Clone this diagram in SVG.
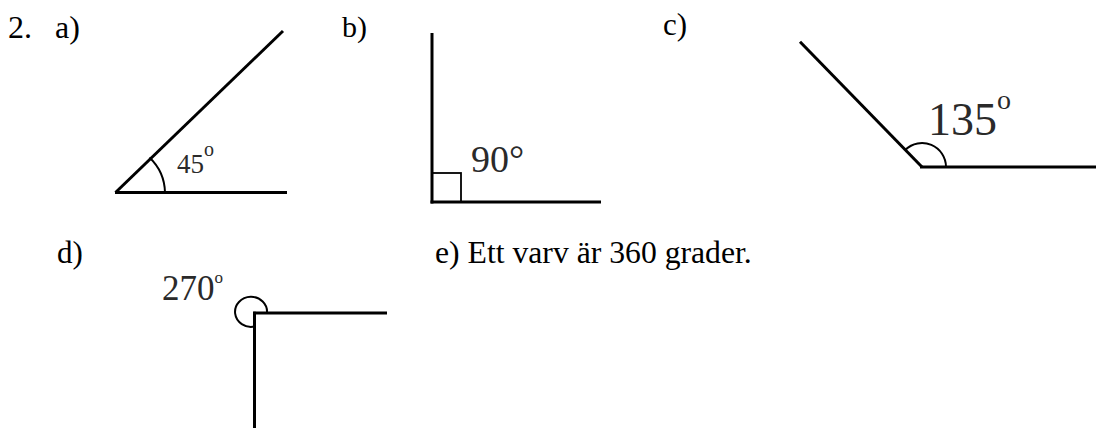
<svg xmlns="http://www.w3.org/2000/svg" width="1096" height="428" viewBox="0 0 1096 428">
  <style>
    text { font-family: "Liberation Serif", "Times New Roman", serif; }
    .lbl { fill: #000; }
    .deg { fill: #2a2a2a; }
    .ray { stroke: #000; stroke-width: 3; fill: none; stroke-linecap: butt; }
    .arc { stroke: #000; stroke-width: 2; fill: none; }
  </style>
  <rect width="1096" height="428" fill="#fff"/>

  <g id="labels">
    <text class="lbl" x="8" y="37.5" font-size="32">2.</text>
    <text class="lbl" x="55" y="37.5" font-size="32">a)</text>
    <text class="lbl" x="342" y="37" font-size="30">b)</text>
    <text class="lbl" x="663" y="35" font-size="31">c)</text>
    <text class="lbl" x="57" y="263" font-size="31">d)</text>
    <text class="lbl" x="435" y="263" font-size="31.7">e) Ett varv är 360 grader.</text>
  </g>

  <g id="angle-a">
    <line class="ray" x1="115" y1="192.5" x2="287" y2="192.5"/>
    <line class="ray" x1="115.5" y1="192.5" x2="283" y2="31"/>
    <path class="arc" d="M165 192.5 A50 50 0 0 0 149.5 157.5"/>
    <text class="deg" style="font-family:'Liberation Serif',serif" x="177" y="172.5" font-size="27">45<tspan font-size="20" dy="-17">o</tspan></text>
  </g>

  <g id="angle-b">
    <line class="ray" x1="432" y1="33" x2="432" y2="203.5"/>
    <line class="ray" x1="430.5" y1="202" x2="601" y2="202"/>
    <rect x="432" y="173" width="29" height="29" fill="none" stroke="#000" stroke-width="1.8"/>
    <text class="deg" style="font-family:'Liberation Serif',serif" x="471" y="171.5" font-size="38">90°</text>
  </g>

  <g id="angle-c">
    <line class="ray" x1="800" y1="41.7" x2="922" y2="167"/>
    <line class="ray" x1="920" y1="167" x2="1096" y2="167"/>
    <path class="arc" stroke-width="2.5" d="M946 167 A24 24 0 0 0 905.3 149.8"/>
    <text class="deg" style="font-family:'Liberation Serif',serif" x="928" y="135" font-size="46">135<tspan font-size="28" dy="-26.5">o</tspan></text>
  </g>

  <g id="angle-d">
    <line class="ray" stroke-width="2.7" x1="254.5" y1="311.7" x2="254.5" y2="428"/>
    <line class="ray" stroke-width="2.7" x1="253.2" y1="313" x2="387" y2="313"/>
    <path class="arc" stroke-width="2.7" d="M267 313 A16 15 0 1 0 254.5 326.5"/>
    <text class="deg" style="font-family:'Liberation Serif',serif" x="162" y="300" font-size="35">270<tspan font-size="17" dy="-17">o</tspan></text>
  </g>
</svg>
